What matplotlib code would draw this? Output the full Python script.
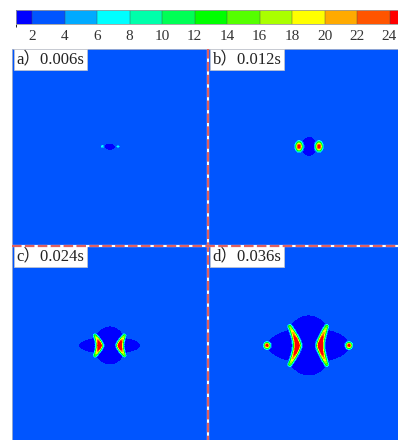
import matplotlib
matplotlib.use("Agg")
import matplotlib.pyplot as plt
import numpy as np
from matplotlib.cm import ScalarMappable
from matplotlib.colors import BoundaryNorm, ListedColormap
from matplotlib.lines import Line2D

W, H = 398, 440  # output size, pixels

# colour levels of the field
bounds = [1, 2, 4, 6, 8, 10, 12, 14, 16, 18, 20, 22, 24, 26]
level_colors = [
    "#0000ff", "#0055ff", "#00aaff", "#00ffff", "#00ffaa", "#00ff55", "#00ff00",
    "#55ff00", "#aaff00", "#ffff00", "#ffaa00", "#ff5500", "#ff0000",
]
tick_values = [2, 4, 6, 8, 10, 12, 14, 16, 18, 20, 22, 24]

panel_labels = ["a）0.006s", "b）0.012s", "c）0.024s", "d）0.036s"]
background_value = 3.0
dark_value = 1.2

# features per panel, in panel pixels (x to the right, y downwards)
# dark regions: cx, cy, rx, ry
dark_ellipses = [
    [(98.0, 98.0, 5.0, 3.0)],
    [(101.3, 97.7, 7.5, 9.5)],
    [(98.0, 99.7, 16.0, 19.0), (98.0, 99.7, 30.5, 8.5)],
    [(101.0, 99.7, 24.0, 30.0), (101.0, 99.7, 41.0, 17.5)],
]
# hot spots: cx, cy, wx, wy, peak
hot_spots = [
    [(90.7, 97.7, 1.9, 1.9, 7.5), (106.3, 97.7, 1.9, 1.9, 7.5)],
    [(91.3, 97.7, 3.8, 5.2, 25.5), (111.3, 97.7, 3.8, 5.2, 25.5)],
    [],
    [(59.3, 99.7, 3.4, 3.6, 25.5), (141.3, 99.7, 3.4, 3.6, 25.5)],
]
# crescent ridges: apex x, apex y, tip dx, tip dy, peak at apex, peak at tips,
# width at apex, width at tips
crescents = [
    [],
    [],
    [(87.8, 99.7, -4.5, 10.0, 32.0, 14.0, 3.4, 2.0),
     (108.2, 99.7, 4.5, 10.0, 32.0, 14.0, 3.4, 2.0)],
    [(89.5, 99.7, -7.5, 19.0, 32.0, 15.0, 3.8, 2.3),
     (112.5, 99.7, 6.5, 19.0, 32.0, 15.0, 3.8, 2.3)],
]
ARM_BEND = 1.4

PANEL_W, PANEL_H = 196, 197
panel_origins = [(12, 49), (208, 49), (12, 246), (208, 246)]


def px_box(x, y, w, h):
    return [x / W, 1 - (y + h) / H, w / W, h / H]


def ridge(dist, width):
    return np.exp(-((dist / width) ** 2.5))


def build_field(k):
    xs = np.arange(0, PANEL_W, 0.5) + 0.25
    ys = np.arange(0, PANEL_H, 0.5) + 0.25
    X, Y = np.meshgrid(xs, ys)
    field = np.full(X.shape, background_value)
    for cx, cy, rx, ry in dark_ellipses[k]:
        inside = ((X - cx) / rx) ** 2 + ((Y - cy) / ry) ** 2 <= 1
        field[inside] = dark_value
    for cx, cy, wx, wy, peak in hot_spots[k]:
        d = np.sqrt(((X - cx) / wx) ** 2 + ((Y - cy) / wy) ** 2)
        field = np.maximum(field, peak * ridge(d, 1.0))
    for ax_, ay_, dx, dy, p0, p1, w0, w1 in crescents[k]:
        for t in np.linspace(-1, 1, 101):
            a = abs(t)
            px = ax_ + dx * a ** ARM_BEND
            py = ay_ + dy * t
            peak = p0 * (1 - a) + p1 * a
            w = w0 * (1 - a) + w1 * a
            d = np.hypot(X - px, Y - py)
            field = np.maximum(field, peak * ridge(d, w))
    return field


cmap = ListedColormap(level_colors)
norm = BoundaryNorm(bounds, cmap.N)
serif = ["Liberation Serif", "Noto Sans CJK SC"]

fig = plt.figure(figsize=(W / 100, H / 100), dpi=100)

for k, (x0, y0) in enumerate(panel_origins):
    ax = fig.add_axes(px_box(x0, y0, PANEL_W, PANEL_H))
    ax.imshow(build_field(k), cmap=cmap, norm=norm, extent=(0, PANEL_W, PANEL_H, 0),
              interpolation="nearest", aspect="auto")
    ax.set_xlim(0, PANEL_W)
    ax.set_ylim(PANEL_H, 0)
    ax.set_xticks([])
    ax.set_yticks([])
    for s in ax.spines.values():
        s.set_edgecolor("#aab4cc")
        s.set_linewidth(0.6)
    ax.text(4.5, 10.5, panel_labels[k], family=serif, fontsize=12, color="#222222",
            va="center", ha="left",
            bbox=dict(boxstyle="square,pad=0.15", facecolor="white",
                      edgecolor="#c8c8c8", linewidth=0.5))

# dividers between the panels
for xs_, ys_ in [((208.3, 208.3), (49, 440)), ((12, 398), (246.5, 246.5))]:
    xf = [v / W for v in xs_]
    yf = [1 - v / H for v in ys_]
    fig.add_artist(Line2D(xf, yf, color="white", linewidth=1.6))
    fig.add_artist(Line2D(xf, yf, color="#e06060", linewidth=1.6,
                          linestyle=(0, (4.3, 1.5))))

# colour bar
cax = fig.add_axes(px_box(15.75, 10, 422 - 15.75, 14))
sm = ScalarMappable(norm=norm, cmap=cmap)
cbar = fig.colorbar(sm, cax=cax, orientation="horizontal", boundaries=bounds,
                    spacing="proportional", ticks=tick_values, drawedges=True)
cbar.dividers.set_color("#4a4a4a")
cbar.dividers.set_linewidth(0.3)
cbar.outline.set_edgecolor("#9a9a9a")
cbar.outline.set_linewidth(0.6)
cax.tick_params(length=0, pad=4.5, labelsize=11, labelcolor="#333333")
for lab in cax.get_xticklabels():
    lab.set_family(serif)

fig.savefig("out.png", dpi=100)
